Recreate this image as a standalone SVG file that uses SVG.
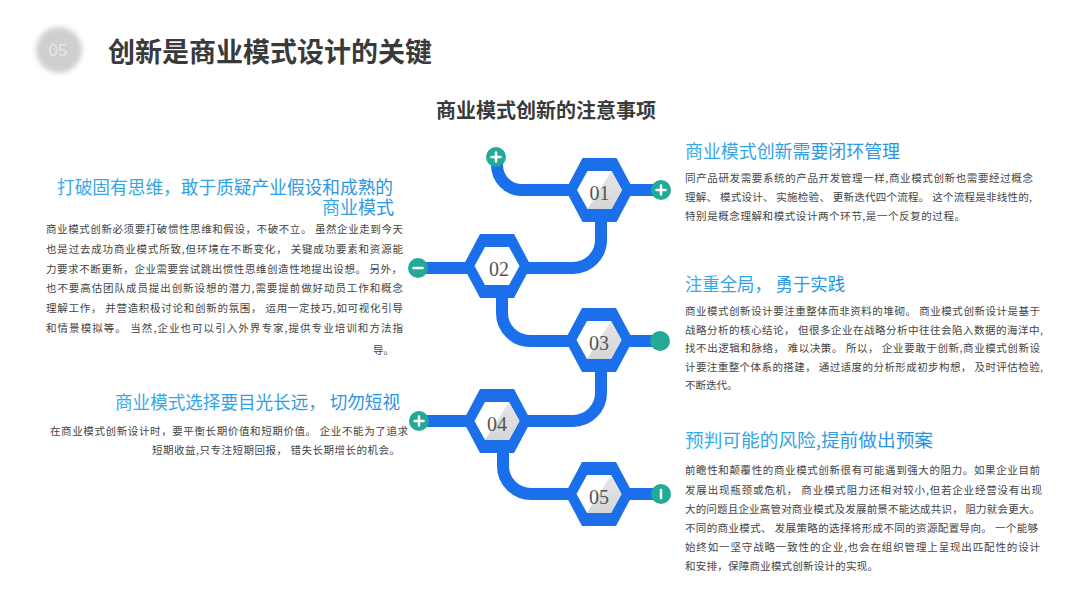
<svg xmlns="http://www.w3.org/2000/svg" width="1080" height="608" viewBox="0 0 1080 608">
<defs>
<style>
.title{font-family:"Noto Sans CJK SC","Noto Sans",sans-serif;font-weight:bold;fill:#3a3a3a}
.hd{font-family:"Noto Sans CJK SC","Noto Sans",sans-serif;font-size:18px;fill:url(#hg)}
.bd{font-family:"Noto Sans CJK SC","Noto Sans",sans-serif;font-size:10.5px;fill:#444}
.num{font-family:"Liberation Serif",serif;font-size:20px;fill:#555;text-anchor:middle}
.conn{fill:none;stroke:#1B6FEA;stroke-width:12}
.dot{fill:#22AA96}
.sym{stroke:#fff;stroke-width:2.5;stroke-linecap:round;fill:none}
</style>
<linearGradient id="hg" x1="0" y1="0" x2="1" y2="0">
<stop offset="0" stop-color="#36ACE8"/>
<stop offset="1" stop-color="#2A90E0"/>
</linearGradient>
<linearGradient id="sg" x1="0" y1="0" x2="0" y2="1">
<stop offset="0" stop-color="#e6e6e6"/>
<stop offset="1" stop-color="#d6d6d6"/>
</linearGradient>
<filter id="blur" x="-50%" y="-50%" width="200%" height="200%"><feGaussianBlur stdDeviation="2.5"/></filter>
<polygon id="outer" points="-34,0 -17,-32 17,-32 34,0 17,32 -17,32" fill="#1B6FEA"/>
<polygon id="inner" points="-22.5,0 -12,-19 12,-19 22.5,0 12,19 -12,19" fill="#fff"/>
<polygon id="shade" points="12,-19 22.5,0 12,19 -12,19" fill="url(#sg)"/>
</defs>
<rect width="1080" height="608" fill="#fff"/>

<g id="header">
<circle cx="59" cy="50" r="23" fill="#cfcfcf" filter="url(#blur)"/>
<text x="58" y="56" font-family="Liberation Sans, sans-serif" font-size="17" fill="#e6e6e6" text-anchor="middle">05</text>
<text class="title" x="108" y="62" font-size="27" textLength="324" lengthAdjust="spacingAndGlyphs">创新是商业模式设计的关键</text>
<text class="title" x="546" y="118" font-size="20" text-anchor="middle">商业模式创新的注意事项</text>
</g>

<g id="connectors">
<path class="conn" d="M497,157 V165 A25,25 0 0 0 522,190 H661"/>
<path class="conn" d="M601,190 V240 A28,28 0 0 1 573,268 H418"/>
<path class="conn" d="M502,266 V313 A28,28 0 0 0 530,341 H660"/>
<path class="conn" d="M601,340 V393 A28,28 0 0 1 573,421 H419"/>
<path class="conn" d="M503,421 V466 A28,28 0 0 0 531,494 H661"/>
</g>

<g id="dot-start"><circle class="dot" cx="496" cy="157" r="10"/><path class="sym" d="M491.5,157 H500.5 M496,152.5 V161.5"/></g>
<g id="dot-01"><circle class="dot" cx="661" cy="190" r="10"/><path class="sym" d="M656.5,190 H665.5 M661,185.5 V194.5"/></g>
<g id="dot-02"><circle class="dot" cx="418" cy="268" r="10"/><path class="sym" d="M413.5,268 H422.5"/></g>
<g id="dot-03"><circle class="dot" cx="660" cy="341" r="10"/></g>
<g id="dot-04"><circle class="dot" cx="419" cy="421" r="10"/><path class="sym" d="M414.5,421 H423.5 M419,416.5 V425.5"/></g>
<g id="dot-05"><circle class="dot" cx="661" cy="494" r="10"/><path class="sym" d="M661,490 V498"/></g>

<g id="hex-01" transform="translate(599.5,190)"><use href="#outer"/><use href="#inner"/><use href="#shade"/><text class="num" x="0" y="10">01</text></g>
<g id="hex-02" transform="translate(497,266)"><use href="#outer"/><use href="#inner"/><text class="num" x="2" y="10">02</text></g>
<g id="hex-03" transform="translate(599,340)"><use href="#outer"/><use href="#inner"/><use href="#shade"/><text class="num" x="0" y="10">03</text></g>
<g id="hex-04" transform="translate(497,421)"><use href="#outer"/><use href="#inner"/><use href="#shade"/><text class="num" x="0" y="10">04</text></g>
<g id="hex-05" transform="translate(599,494)"><use href="#outer"/><use href="#inner"/><use href="#shade"/><text class="num" x="0" y="10">05</text></g>

<g id="block-left-1">
<text class="hd" x="393" y="194" text-anchor="end" textLength="336" lengthAdjust="spacingAndGlyphs">打破固有思维，敢于质疑产业假设和成熟的</text>
<text class="hd" x="394" y="214" text-anchor="end" font-size="17.5">商业模式</text>
<text class="bd" x="46" y="233" textLength="357" lengthAdjust="spacing">商业模式创新必须要打破惯性思维和假设，不破不立。 虽然企业走到今天</text>
<text class="bd" x="46" y="253" textLength="357" lengthAdjust="spacing">也是过去成功商业模式所致,但环境在不断变化， 关键成功要素和资源能</text>
<text class="bd" x="46" y="273" textLength="356" lengthAdjust="spacing">力要求不断更新，企业需要尝试跳出惯性思维创造性地提出设想。 另外，</text>
<text class="bd" x="46" y="292" textLength="357" lengthAdjust="spacing">也不要高估团队成员提出创新设想的潜力,需要提前做好动员工作和概念</text>
<text class="bd" x="46" y="312" textLength="357" lengthAdjust="spacing">理解工作， 并营造积极讨论和创新的氛围， 运用一定技巧,如可视化引导</text>
<text class="bd" x="46" y="332" textLength="357" lengthAdjust="spacing">和情景模拟等。 当然,企业也可以引入外界专家,提供专业培训和方法指</text>
<text class="bd" x="394" y="354" text-anchor="end">导。</text>
</g>

<g id="block-left-2">
<text class="hd" x="400" y="409" text-anchor="end" textLength="285" lengthAdjust="spacingAndGlyphs">商业模式选择要目光长远， 切勿短视</text>
<text class="bd" x="50" y="435" textLength="358" lengthAdjust="spacing">在商业模式创新设计时，要平衡长期价值和短期价值。 企业不能为了追求</text>
<text class="bd" x="152" y="454" textLength="248" lengthAdjust="spacing">短期收益,只专注短期回报， 错失长期增长的机会。</text>
</g>

<g id="block-right-1">
<text class="hd" x="685" y="158" textLength="215" lengthAdjust="spacingAndGlyphs">商业模式创新需要闭环管理</text>
<text class="bd" x="685" y="182" textLength="348" lengthAdjust="spacing">同产品研发需要系统的产品开发管理一样,商业模式创新也需要经过概念</text>
<text class="bd" x="685" y="201" textLength="347" lengthAdjust="spacing">理解、 模式设计、 实施检验、 更新迭代四个流程。 这个流程是非线性的,</text>
<text class="bd" x="685" y="220" textLength="280" lengthAdjust="spacing">特别是概念理解和模式设计两个环节,是一个反复的过程。</text>
</g>

<g id="block-right-2">
<text class="hd" x="685" y="291" textLength="160" lengthAdjust="spacingAndGlyphs">注重全局， 勇于实践</text>
<text class="bd" x="685" y="315" textLength="355" lengthAdjust="spacing">商业模式创新设计要注重整体而非资料的堆砌。 商业模式创新设计是基于</text>
<text class="bd" x="685" y="334" textLength="358" lengthAdjust="spacing">战略分析的核心结论， 但很多企业在战略分析中往往会陷入数据的海洋中,</text>
<text class="bd" x="685" y="352" textLength="355" lengthAdjust="spacing">找不出逻辑和脉络， 难以决策。 所以， 企业要敢于创新,商业模式创新设</text>
<text class="bd" x="685" y="371" textLength="358" lengthAdjust="spacing">计要注重整个体系的搭建， 通过适度的分析形成初步构想， 及时评估检验,</text>
<text class="bd" x="685" y="389">不断迭代。</text>
</g>

<g id="block-right-3">
<text class="hd" x="685" y="447" textLength="248" lengthAdjust="spacingAndGlyphs">预判可能的风险,提前做出预案</text>
<text class="bd" x="685" y="474" textLength="355" lengthAdjust="spacing">前瞻性和颠覆性的商业模式创新很有可能遇到强大的阻力。如果企业目前</text>
<text class="bd" x="685" y="494" textLength="357" lengthAdjust="spacing">发展出现瓶颈或危机， 商业模式阻力还相对较小,但若企业经营没有出现</text>
<text class="bd" x="685" y="513" textLength="355" lengthAdjust="spacing">大的问题且企业高管对商业模式及发展前景不能达成共识， 阻力就会更大。</text>
<text class="bd" x="685" y="532" textLength="353" lengthAdjust="spacing">不同的商业模式、 发展策略的选择将形成不同的资源配置导向。 一个能够</text>
<text class="bd" x="685" y="551" textLength="355" lengthAdjust="spacing">始终如一坚守战略一致性的企业,也会在组织管理上呈现出匹配性的设计</text>
<text class="bd" x="685" y="570" textLength="193" lengthAdjust="spacing">和安排，保障商业模式创新设计的实现。</text>
</g>
</svg>
